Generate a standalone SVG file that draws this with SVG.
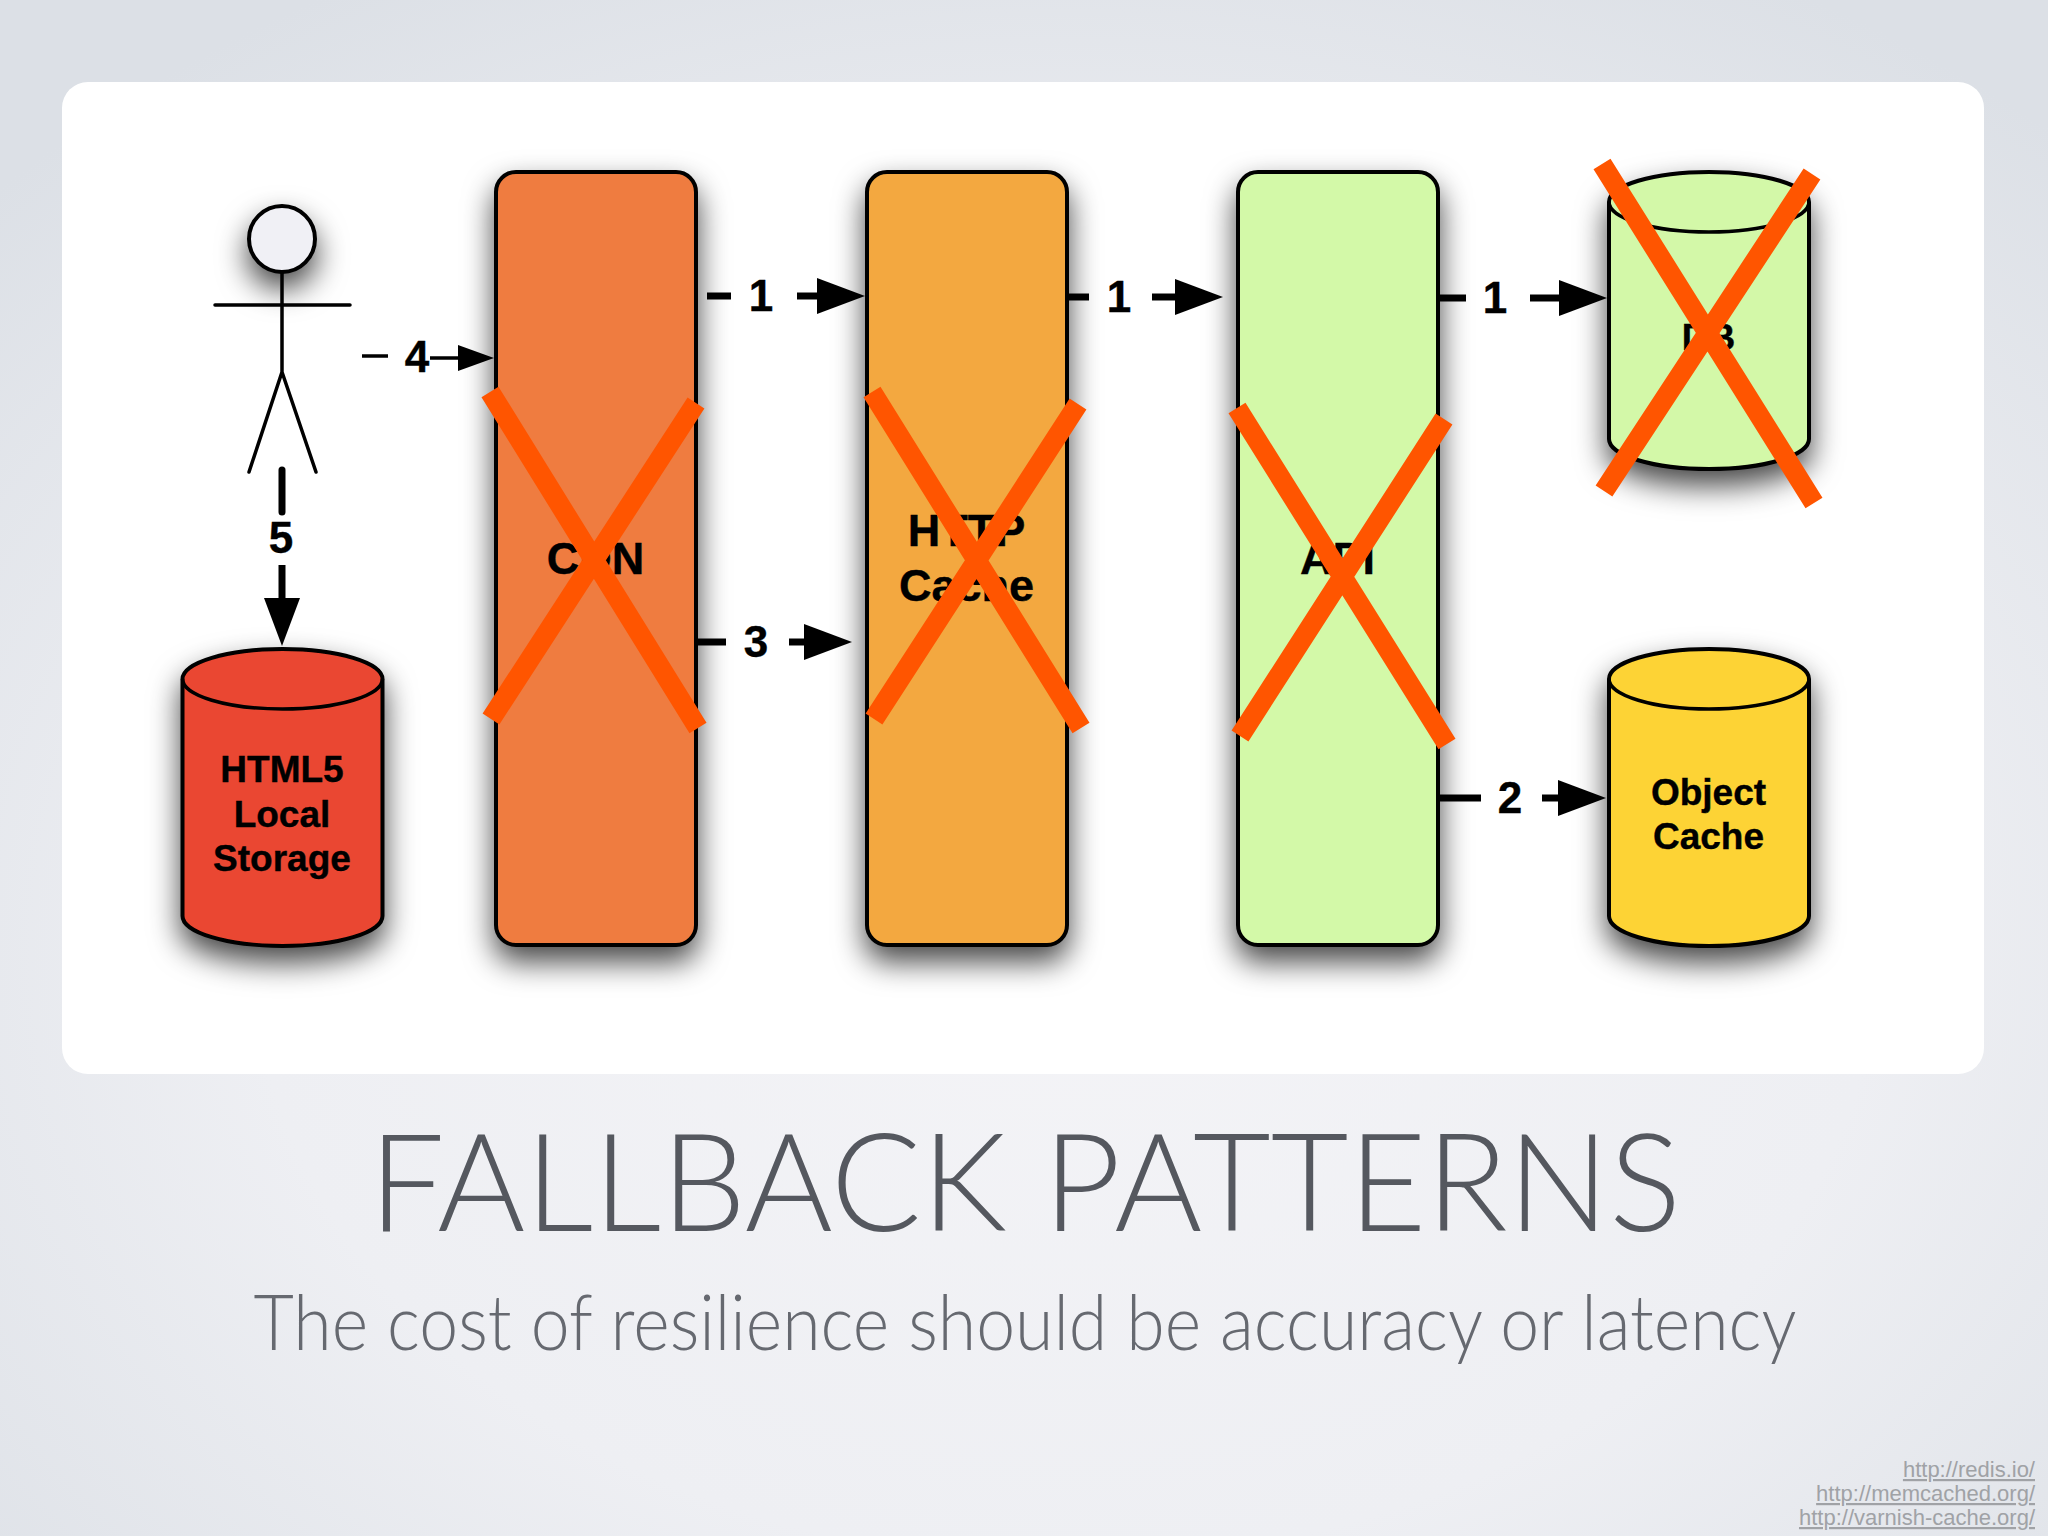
<svg xmlns="http://www.w3.org/2000/svg" width="2048" height="1536" viewBox="0 0 2048 1536">
<style>
.lbl{font-family:"Liberation Sans",Arial,sans-serif;font-weight:700;fill:#000;stroke:#000;stroke-width:.4px;text-anchor:middle}
.f44{font-size:45px}.f36{font-size:37px}.f42{font-size:44px}
.box,.cyl{stroke:#000;stroke-width:4}
.cyltop{stroke:#000;stroke-width:3.5}
.conn{stroke:#000;stroke-width:7;fill:none}
.thin{stroke:#000;stroke-width:3.500;fill:none}
.limb{stroke:#000;stroke-width:3.500;fill:none;stroke-linecap:round}
.x{stroke:#ff5500;stroke-width:20;fill:none}
.foot{font-family:"Liberation Sans",Arial,sans-serif;font-size:22px;fill:#a0a2a6;text-anchor:end;text-decoration:underline}
</style>
<defs>
<radialGradient id="bg" cx="52%" cy="62%" r="72%">
<stop offset="0" stop-color="#f4f4f7"/><stop offset=".55" stop-color="#eeeff3"/><stop offset="1" stop-color="#dce0e6"/>
</radialGradient>
<filter id="sh" x="-40%" y="-40%" width="180%" height="200%">
<feDropShadow dx="0" dy="15" stdDeviation="15" flood-color="#000" flood-opacity=".72"/>
</filter>
<filter id="shs" x="-80%" y="-80%" width="260%" height="280%">
<feDropShadow dx="0" dy="15" stdDeviation="15" flood-color="#000" flood-opacity=".72"/>
</filter>
<marker id="ah" markerUnits="userSpaceOnUse" markerWidth="48" markerHeight="36" refX="0" refY="18" orient="auto"><path d="M0 0L48 18L0 36Z" fill="#000"/></marker>
<marker id="ahs" markerUnits="userSpaceOnUse" markerWidth="36" markerHeight="26" refX="0" refY="13" orient="auto"><path d="M0 0L36 13L0 26Z" fill="#000"/></marker>
</defs>
<rect width="2048" height="1536" fill="url(#bg)"/>
<rect id="card" x="62" y="82" width="1922" height="992" rx="26" fill="#fff"/>

<g id="actor">
<circle cx="282" cy="239" r="33" fill="#f0f0f5" stroke="#000" stroke-width="4" filter="url(#shs)"/>
<path class="limb" d="M282 272V372M215 305H350M282 372L249 472M282 372L316 472"/>
</g>

<g id="cdn"><rect class="box" x="496" y="172" width="200" height="773" rx="20" fill="#ef7c3f" filter="url(#sh)"/><text class="lbl f44" x="595.500" y="574">CDN</text></g>
<g id="http-cache"><rect class="box" x="867" y="172" width="200" height="773" rx="20" fill="#f3a83f" filter="url(#sh)"/><text class="lbl f44" x="966.500" y="546">HTTP</text><text class="lbl f44" x="966.500" y="601">Cache</text></g>
<g id="api"><rect class="box" x="1238" y="172" width="200" height="773" rx="20" fill="#d3f9a8" filter="url(#sh)"/><text class="lbl f44" x="1337.500" y="574">API</text></g>

<g id="db">
<path class="cyl" filter="url(#sh)" fill="#d3f8a8" d="M1609 202A100 30 0 0 1 1809 202V439A100 30 0 0 1 1609 439Z"/>
<path class="cyltop" fill="none" d="M1609 202A100 30 0 0 0 1809 202"/>
<text class="lbl f36" x="1708.500" y="350">DB</text>
</g>
<g id="object-cache">
<path class="cyl" filter="url(#sh)" fill="#fdd335" d="M1609 679A100 30 0 0 1 1809 679V916A100 30 0 0 1 1609 916Z"/>
<path class="cyltop" fill="none" d="M1609 679A100 30 0 0 0 1809 679"/>
<text class="lbl f36" x="1708.500" y="805">Object</text><text class="lbl f36" x="1708.500" y="849">Cache</text>
</g>
<g id="local-storage">
<path class="cyl" filter="url(#sh)" fill="#ea4732" d="M182.500 679A100 30 0 0 1 382.500 679V916A100 30 0 0 1 182.500 916Z"/>
<path class="cyltop" fill="none" d="M182.500 679A100 30 0 0 0 382.500 679"/>
<text class="lbl f36" x="282" y="782">HTML5</text><text class="lbl f36" x="282" y="827">Local</text><text class="lbl f36" x="282" y="871">Storage</text>
</g>

<g id="connectors">
<path class="thin" d="M362 356H388"/><path class="thin" d="M430 358H458" marker-end="url(#ahs)"/>
<text class="lbl f42" x="417" y="372">4</text>
<path class="conn" stroke-linecap="round" d="M282 470V512"/><path class="conn" d="M282 565V598" marker-end="url(#ah)"/>
<text class="lbl f42" x="281" y="553">5</text>
<path class="conn" d="M707 296H731"/><path class="conn" d="M797 296H817" marker-end="url(#ah)"/>
<text class="lbl f42" x="761" y="311">1</text>
<path class="conn" d="M1066 297H1089"/><path class="conn" d="M1152 297H1175" marker-end="url(#ah)"/>
<text class="lbl f42" x="1119" y="312">1</text>
<path class="conn" d="M1436 298H1466"/><path class="conn" d="M1530 298H1559" marker-end="url(#ah)"/>
<text class="lbl f42" x="1495" y="313">1</text>
<path class="conn" d="M694 642H726"/><path class="conn" d="M789 642H804" marker-end="url(#ah)"/>
<text class="lbl f42" x="756" y="657">3</text>
<path class="conn" d="M1437 798H1481"/><path class="conn" d="M1542 798H1558" marker-end="url(#ah)"/>
<text class="lbl f42" x="1510" y="813">2</text>
</g>

<g id="crosses">
<path class="x" d="M490 392L698 728M696 403L491 719"/>
<path class="x" d="M872 392L1081 728M1078 404L874 719"/>
<path class="x" d="M1237 408L1447 744M1444 419L1240 736"/>
<path class="x" d="M1602 164L1814 503M1812 174L1604 491"/>
</g>

<text x="1025" y="1231" font-family="Lato,'Noto Sans',sans-serif" font-weight="300" font-size="136" fill="#55585f" text-anchor="middle" textLength="1312" lengthAdjust="spacingAndGlyphs">FALLBACK PATTERNS</text>
<text x="1025" y="1350" font-family="Lato,'Noto Sans',sans-serif" font-weight="300" font-size="76" fill="#666970" text-anchor="middle" textLength="1543" lengthAdjust="spacingAndGlyphs">The cost of resilience should be accuracy or latency</text>
<text class="foot" x="2035" y="1477">http://redis.io/</text>
<text class="foot" x="2035" y="1501">http://memcached.org/</text>
<text class="foot" x="2035" y="1525">http://varnish-cache.org/</text>
</svg>
